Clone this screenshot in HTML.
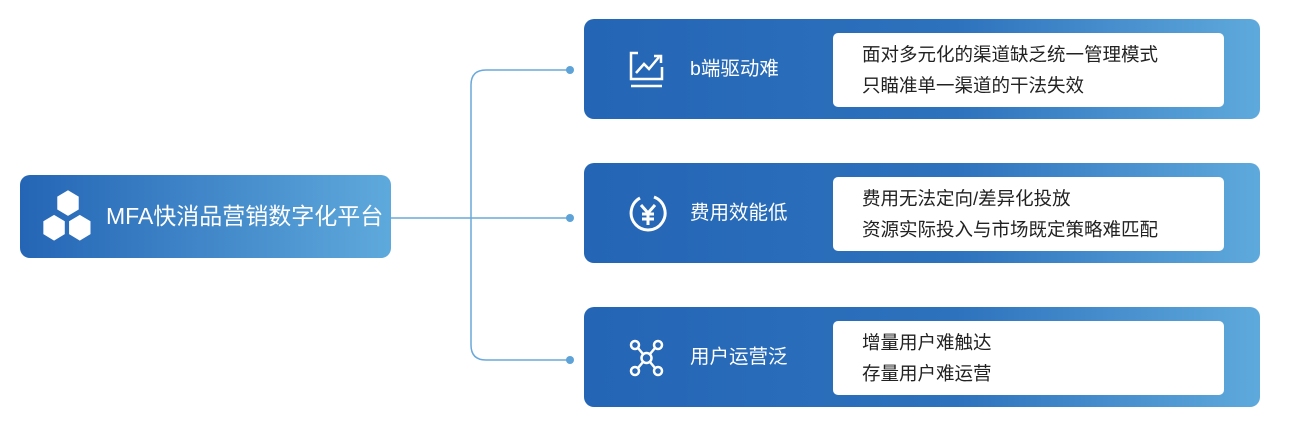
<!DOCTYPE html>
<html><head><meta charset="utf-8"><style>
body{margin:0;width:1290px;height:431px;background:#fff;position:relative;font-family:"Liberation Sans","Noto Sans CJK SC",sans-serif;overflow:hidden}
.box{position:absolute;border-radius:10px;background:linear-gradient(90deg,#2465b5 0%,#2d72bd 55%,#5ea9dc 100%)}
.inner{position:absolute;left:249px;top:14px;width:391px;height:74px;background:#fff;border-radius:5px;font-size:18.5px;color:#222;line-height:31px;padding:6px 0 0 29px;box-sizing:border-box;white-space:nowrap}
.title{position:absolute;left:106px;top:0;line-height:100px;font-size:19.5px;color:#fff}
.ic{position:absolute;left:44px;top:30px}
</style></head><body>
<svg width="1290" height="431" style="position:absolute;left:0;top:0">
<g stroke="#6aa9da" stroke-width="1.5" fill="none">
<path d="M390 218 H570"/>
<path d="M570 70 H486 Q471 70 471 85 V345 Q471 360 486 360 H570"/>
</g>
<g fill="#5ea3d8"><circle cx="570" cy="70" r="4"/><circle cx="570" cy="218" r="4"/><circle cx="570" cy="360" r="4"/></g>
</svg>
<div class="box" style="left:20px;top:175px;width:371px;height:83px;background:linear-gradient(90deg,#2465b5,#5ea9dc)">
<svg style="position:absolute;left:18px;top:12px" width="60" height="60" viewBox="0 0 56 56" fill="#fff">
<polygon points="28,3 38,9 38,21 28,27 18,21 18,9"/>
<polygon points="15,26 25,32 25,44 15,50 5,44 5,32"/>
<polygon points="39,26 49,32 49,44 39,50 29,44 29,32"/>
</svg>
<div style="position:absolute;left:86px;top:0;line-height:83px;color:#fff;font-size:23px;white-space:nowrap">MFA快消品营销数字化平台</div>
</div>

<div class="box" style="left:584px;top:19px;width:676px;height:100px">
<svg class="ic" width="40" height="42" viewBox="0 0 40 42" fill="none" stroke="#fff" stroke-width="2.5">
<path d="M10 4 H3 V30 H34 V18"/><path d="M3 37 H34"/><path d="M8 24 L16 15 L21 20 L31 8"/><path d="M26 7 H33 V14"/>
</svg>
<div class="title">b端驱动难</div>
<div class="inner">面对多元化的渠道缺乏统一管理模式<br>只瞄准单一渠道的干法失效</div>
</div>

<div class="box" style="left:584px;top:163px;width:676px;height:100px">
<svg class="ic" width="40" height="42" viewBox="0 0 40 42" fill="none" stroke="#fff" stroke-width="3">
<path d="M26 4 A17 17 0 1 1 12 5"/><path d="M13 12 L20 20 L27 12 M20 20 V32 M14 21 H26 M14 26 H26"/>
</svg>
<div class="title">费用效能低</div>
<div class="inner">费用无法定向/差异化投放<br>资源实际投入与市场既定策略难匹配</div>
</div>

<div class="box" style="left:584px;top:307px;width:676px;height:100px">
<svg class="ic" width="40" height="42" viewBox="0 0 40 42" fill="none" stroke="#fff" stroke-width="2.5">
<circle cx="7" cy="8" r="4"/><circle cx="30" cy="8" r="4"/><circle cx="7" cy="34" r="4"/><circle cx="30" cy="34" r="4"/><circle cx="18.5" cy="21" r="5"/>
<path d="M10 11 L15 17 M27 11 L22 17 M10 31 L15 25 M27 31 L22 25"/>
</svg>
<div class="title">用户运营泛</div>
<div class="inner">增量用户难触达<br>存量用户难运营</div>
</div>
</body></html>
